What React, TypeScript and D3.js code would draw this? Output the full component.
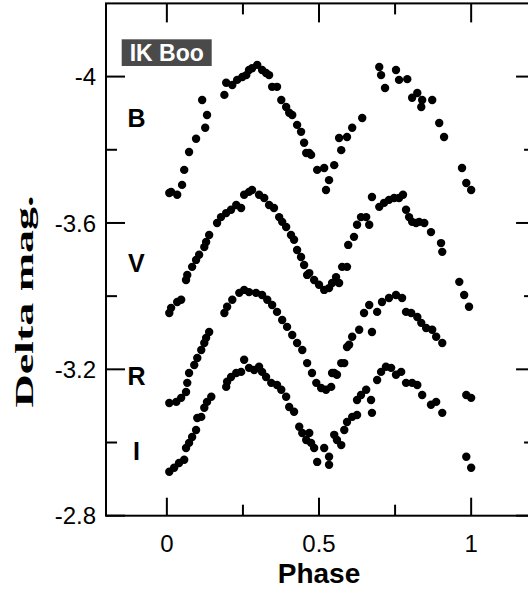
import React from 'react';
import * as d3 from 'd3';

// Phase / Delta mag. pairs
const bandB: [number, number][] = [
  [0.008, -3.682], [0.014, -3.685], [0.034, -3.677], [0.050, -3.704], [0.057, -3.745], [0.073, -3.794],
  [0.096, -3.830], [0.116, -3.936], [0.126, -3.860], [0.132, -3.895], [0.189, -3.950], [0.195, -3.983],
  [0.215, -3.977], [0.231, -3.991], [0.248, -3.999], [0.261, -4.004], [0.270, -4.018], [0.280, -4.023],
  [0.297, -4.032], [0.313, -4.018], [0.326, -4.010], [0.336, -4.004], [0.346, -3.972], [0.362, -3.972],
  [0.376, -3.936], [0.392, -3.917], [0.402, -3.901], [0.412, -3.895], [0.428, -3.868], [0.441, -3.849],
  [0.451, -3.819], [0.458, -3.791], [0.468, -3.791], [0.474, -3.786], [0.494, -3.745], [0.517, -3.750],
  [0.523, -3.690], [0.533, -3.717], [0.550, -3.758], [0.566, -3.832], [0.573, -3.799], [0.592, -3.835],
  [0.609, -3.860], [0.642, -3.887], [0.698, -4.026], [0.704, -4.004], [0.717, -3.969], [0.753, -4.018],
  [0.763, -3.991], [0.790, -3.993], [0.806, -3.942], [0.823, -3.955], [0.836, -3.917], [0.839, -3.936],
  [0.872, -3.936], [0.895, -3.873], [0.911, -3.835], [0.970, -3.750], [0.984, -3.709], [1.000, -3.690],
];

const bandV: [number, number][] = [
  [0.008, -3.354], [0.014, -3.368], [0.034, -3.384], [0.047, -3.390], [0.063, -3.444], [0.067, -3.458],
  [0.083, -3.480], [0.096, -3.499], [0.106, -3.513], [0.123, -3.534], [0.129, -3.548], [0.139, -3.567],
  [0.165, -3.600], [0.178, -3.616], [0.195, -3.627], [0.211, -3.636], [0.228, -3.649], [0.244, -3.641],
  [0.254, -3.677], [0.270, -3.685], [0.280, -3.690], [0.303, -3.677], [0.320, -3.668], [0.336, -3.649],
  [0.352, -3.641], [0.369, -3.616], [0.379, -3.603], [0.392, -3.589], [0.408, -3.567], [0.418, -3.554],
  [0.428, -3.526], [0.441, -3.507], [0.451, -3.485], [0.461, -3.458], [0.468, -3.463], [0.484, -3.444],
  [0.500, -3.431], [0.517, -3.417], [0.533, -3.422], [0.543, -3.436], [0.556, -3.452], [0.566, -3.436],
  [0.576, -3.480], [0.592, -3.480], [0.596, -3.540], [0.615, -3.562], [0.625, -3.595], [0.638, -3.616],
  [0.655, -3.616], [0.665, -3.595], [0.674, -3.671], [0.698, -3.644], [0.714, -3.655], [0.730, -3.663],
  [0.747, -3.668], [0.763, -3.668], [0.776, -3.677], [0.786, -3.636], [0.796, -3.616], [0.806, -3.603],
  [0.819, -3.600], [0.829, -3.603], [0.846, -3.600], [0.868, -3.575], [0.901, -3.545], [0.905, -3.521],
  [0.961, -3.439], [0.977, -3.403], [0.993, -3.371],
];

const bandR: [number, number][] = [
  [0.008, -3.108], [0.031, -3.111], [0.047, -3.122], [0.063, -3.138], [0.067, -3.163], [0.073, -3.190],
  [0.090, -3.212], [0.100, -3.231], [0.113, -3.253], [0.123, -3.272], [0.129, -3.286], [0.139, -3.302],
  [0.189, -3.354], [0.198, -3.371], [0.215, -3.390], [0.238, -3.409], [0.254, -3.417], [0.270, -3.411],
  [0.293, -3.409], [0.313, -3.403], [0.330, -3.390], [0.346, -3.376], [0.362, -3.357], [0.379, -3.335],
  [0.395, -3.316], [0.412, -3.294], [0.428, -3.272], [0.445, -3.253], [0.461, -3.217], [0.477, -3.190],
  [0.491, -3.163], [0.507, -3.149], [0.523, -3.144], [0.540, -3.152], [0.543, -3.190], [0.550, -3.190],
  [0.559, -3.185], [0.573, -3.217], [0.583, -3.217], [0.592, -3.261], [0.599, -3.267], [0.609, -3.289],
  [0.632, -3.308], [0.648, -3.354], [0.665, -3.376], [0.674, -3.302], [0.691, -3.357], [0.707, -3.384],
  [0.730, -3.395], [0.753, -3.403], [0.773, -3.395], [0.786, -3.357], [0.803, -3.354], [0.823, -3.343],
  [0.836, -3.327], [0.852, -3.313], [0.872, -3.308], [0.885, -3.289], [0.905, -3.272], [0.984, -3.130],
  [1.000, -3.122],
];

const bandI: [number, number][] = [
  [0.008, -2.920], [0.024, -2.931], [0.040, -2.944], [0.057, -2.953], [0.063, -2.985], [0.073, -2.999],
  [0.083, -3.015], [0.096, -3.034], [0.100, -3.067], [0.113, -3.070], [0.123, -3.095], [0.132, -3.111],
  [0.146, -3.125], [0.195, -3.152], [0.198, -3.166], [0.211, -3.179], [0.228, -3.190], [0.244, -3.193],
  [0.254, -3.226], [0.270, -3.204], [0.287, -3.198], [0.303, -3.207], [0.313, -3.193], [0.326, -3.179],
  [0.343, -3.163], [0.362, -3.157], [0.376, -3.144], [0.392, -3.125], [0.402, -3.097], [0.418, -3.084],
  [0.435, -3.043], [0.445, -3.026], [0.458, -3.007], [0.468, -3.026], [0.474, -2.999], [0.484, -2.985],
  [0.494, -2.947], [0.517, -2.985], [0.533, -2.961], [0.533, -2.939], [0.550, -3.021], [0.559, -3.007],
  [0.573, -2.993], [0.583, -3.034], [0.592, -3.056], [0.609, -3.070], [0.625, -3.075], [0.625, -3.116],
  [0.638, -3.130], [0.655, -3.144], [0.671, -3.116], [0.674, -3.081], [0.691, -3.171], [0.704, -3.193],
  [0.720, -3.207], [0.737, -3.204], [0.753, -3.185], [0.770, -3.193], [0.786, -3.163], [0.806, -3.163],
  [0.823, -3.157], [0.839, -3.130], [0.868, -3.103], [0.885, -3.111], [0.905, -3.081], [0.984, -2.961],
  [1.000, -2.931],
];

const bandNames = ['B', 'V', 'R', 'I'];
const bandLabelMag = [-3.887, -3.491, -3.182, -2.977];
const bandLabelPhase = -0.1;

const xMajorTicks = [0, 0.5, 1];
const xMinorTicks = [0.25, 0.75];
const yMajorTicks = [-4, -3.6, -3.2, -2.8];
const yMinorTicks = [-3.8, -3.4, -3.0];
const xDomain: [number, number] = [-0.2, 1.21];
const yDomain: [number, number] = [-4.2, -2.8];

const starName = 'IK Boo';
const xTitle = 'Phase';
const yTitle = 'Delta mag.';

export default function App() {
  const W = 528;
  const H = 589;
  const left = 106;
  const top = 3.4;
  const bottom = 515.7;
  const x = d3.scaleLinear().domain(xDomain).range([left, left + 304.3 * (xDomain[1] - xDomain[0])]);
  const y = d3.scaleLinear().domain(yDomain).range([top, bottom]);
  const right = x(xDomain[1]);
  const sans = '"Liberation Sans", Arial, sans-serif';
  const serif = '"Liberation Serif", "Times New Roman", serif';
  const allBands = [bandB, bandV, bandR, bandI];
  const majorLen = 19;
  const minorLen = 11;
  const fmt = (t: number) => String(t);

  return (
    <svg width={W} height={H} style={{ position: 'absolute', left: 0, top: 0, background: '#fff' }}>
      <rect x={0} y={0} width={W} height={H} fill="#fff" />
      {/* data */}
      {allBands.map((band, bi) => (
        <g key={bi}>
          {band.map((d, i) => (
            <circle key={i} cx={x(d[0])} cy={y(d[1])} r={4.2} fill="#000" />
          ))}
        </g>
      ))}
      {/* frame */}
      <rect x={left} y={top} width={right - left} height={bottom - top} fill="none" stroke="#000" strokeWidth={2} />
      {/* x ticks (bottom and top, inward) */}
      {xMajorTicks.map((t) => (
        <g key={'xM' + t}>
          <line x1={x(t)} x2={x(t)} y1={bottom} y2={bottom - majorLen + 1} stroke="#000" strokeWidth={2} />
          <line x1={x(t)} x2={x(t)} y1={top} y2={top + majorLen} stroke="#000" strokeWidth={2} />
          <text x={x(t)} y={552} textAnchor="middle" fontFamily={sans} fontSize={24} fill="#000">
            {fmt(t)}
          </text>
        </g>
      ))}
      {xMinorTicks.map((t) => (
        <g key={'xm' + t}>
          <line x1={x(t)} x2={x(t)} y1={bottom} y2={bottom - minorLen} stroke="#000" strokeWidth={2} />
          <line x1={x(t)} x2={x(t)} y1={top} y2={top + minorLen} stroke="#000" strokeWidth={2} />
        </g>
      ))}
      {/* y ticks (left and right, inward) */}
      {yMajorTicks.map((t) => (
        <g key={'yM' + t}>
          <line x1={left} x2={left + majorLen} y1={y(t)} y2={y(t)} stroke="#000" strokeWidth={2} />
          <line x1={right} x2={right - majorLen} y1={y(t)} y2={y(t)} stroke="#000" strokeWidth={2} />
          <text x={96} y={y(t)} dy="0.36em" textAnchor="end" fontFamily={sans} fontSize={24} fill="#000">
            {fmt(t)}
          </text>
        </g>
      ))}
      {yMinorTicks.map((t) => (
        <g key={'ym' + t}>
          <line x1={left} x2={left + minorLen} y1={y(t)} y2={y(t)} stroke="#000" strokeWidth={2} />
          <line x1={right} x2={right - minorLen} y1={y(t)} y2={y(t)} stroke="#000" strokeWidth={2} />
        </g>
      ))}
      {/* band labels */}
      {bandNames.map((n, i) => (
        <text
          key={n}
          x={x(bandLabelPhase)}
          y={y(bandLabelMag[i])}
          dy="0.36em"
          textAnchor="middle"
          fontFamily={sans}
          fontWeight="bold"
          fontSize={25}
          fill="#000"
        >
          {n}
        </text>
      ))}
      {/* star name box */}
      <rect x={121.7} y={39.3} width={90} height={26.7} fill="#4a4a4a" />
      <text x={166.7} y={60.5} textAnchor="middle" fontFamily={sans} fontWeight="bold" fontSize={23} fill="#fff">
        {starName}
      </text>
      {/* axis titles */}
      <text x={x(0.5)} y={583} textAnchor="middle" fontFamily={sans} fontWeight="bold" fontSize={28} fill="#000">
        {xTitle}
      </text>
      <text
        transform={`translate(33, 301.5) rotate(-90)`}
        textAnchor="middle"
        fontFamily={serif}
        fontWeight="bold"
        fontSize={25}
        textLength={212}
        lengthAdjust="spacingAndGlyphs"
        fill="#000"
      >
        {yTitle}
      </text>
    </svg>
  );
}
